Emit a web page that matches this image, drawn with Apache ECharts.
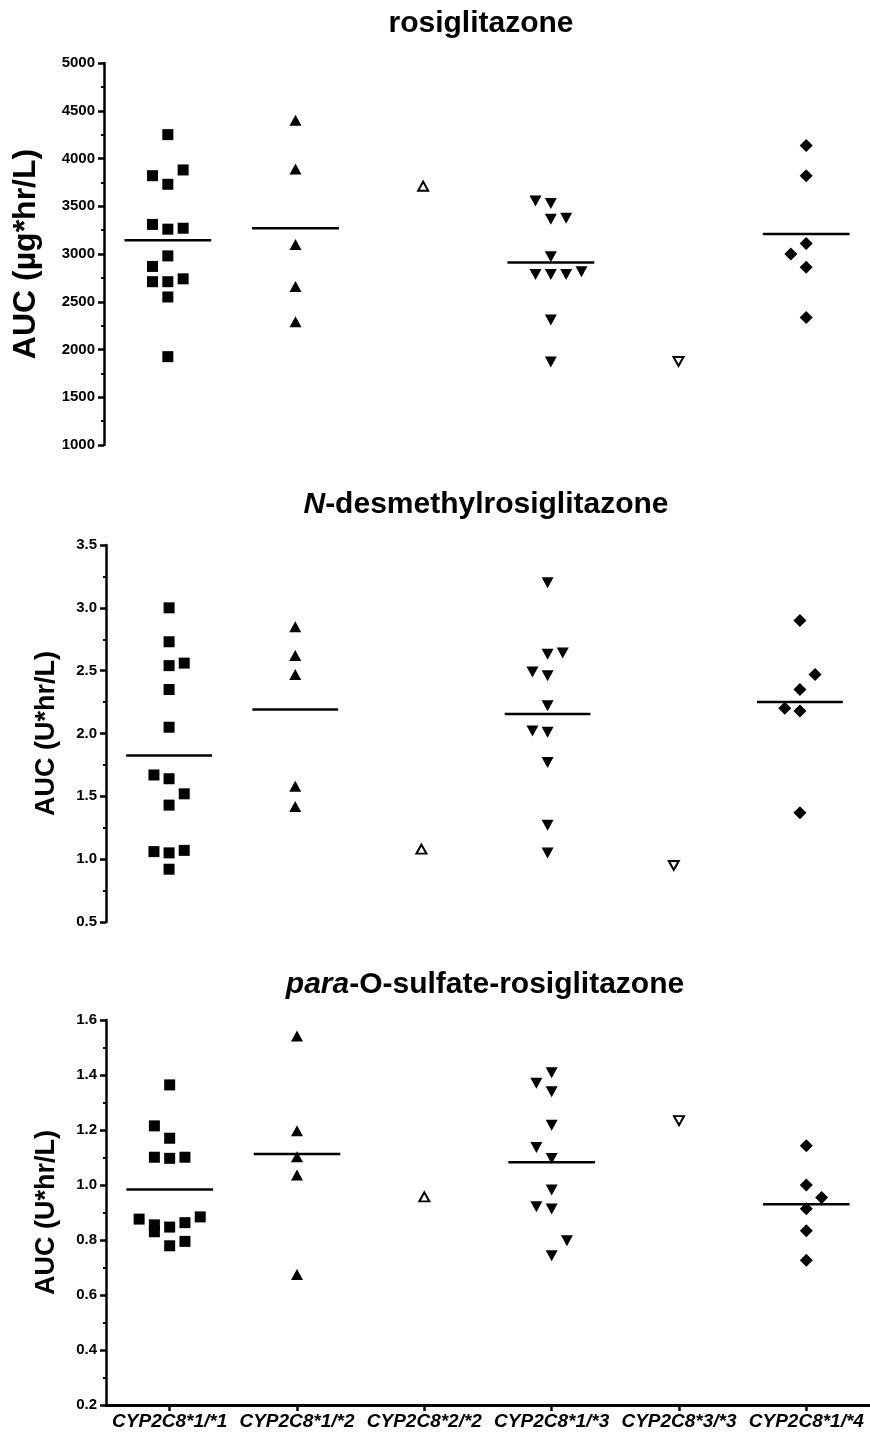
<!DOCTYPE html>
<html>
<head>
<meta charset="utf-8">
<script src="https://cdn.jsdelivr.net/npm/echarts@6/dist/echarts.min.js"></script>
<style>
html,body{margin:0;padding:0;background:#fff;}
#chart{width:870px;height:1433px;}
</style>
</head>
<body>
<div id="chart"></div>
<script>
// ---------------- DATA ----------------
const categories = ['CYP2C8*1/*1','CYP2C8*1/*2','CYP2C8*2/*2','CYP2C8*1/*3','CYP2C8*3/*3','CYP2C8*1/*4'];

// Panel 1: rosiglitazone AUC (µg*hr/L)
const rosiAUC = [
  [4250,3880,3820,3730,3310,3260,3270,2980,2870,2710,2710,2740,2550,1925],
  [4400,3890,3100,2660,2290],
  [3710],
  [3555,3530,3365,3375,2970,2785,2785,2785,2815,2310,1870],
  [1875],
  [4135,3820,3110,3000,2860,2335]
];
// column slot of each point inside its group (scatter jitter column)
const rosiCols = [
  [0,1,-1,0,-1,0,1,0,-1,-1,0,1,0,0],
  [0,0,0,0,0],
  [0],
  [-1,0,0,1,0,-1,0,1,2,0,0],
  [0],
  [0,0,0,-1,0,0]
];
const rosiMeans = [3145,3270,null,2910,null,3210];
const rosiTicks = [1000,5000,500];

// Panel 2: N-desmethylrosiglitazone AUC (U*hr/L)
const nDesAUC = [
  [3.00,2.73,2.54,2.56,2.35,2.05,1.67,1.64,1.52,1.43,1.06,1.05,1.07,0.92],
  [2.85,2.62,2.47,1.58,1.42],
  [1.08],
  [3.20,2.63,2.64,2.49,2.46,2.22,2.02,2.01,1.77,1.27,1.05],
  [0.95],
  [2.90,2.47,2.35,2.20,2.18,1.37]
];
const nDesCols = [
  [0,0,0,1,0,0,-1,0,1,0,-1,0,1,0],
  [0,0,0,0,0],
  [0],
  [0,0,1,-1,0,0,-1,0,0,0,0],
  [0],
  [0,1,0,-1,0,0]
];
const nDesMeans = [1.825,2.19,null,2.155,null,2.25];
const nDesTicks = [0.5,3.5,0.5];

// Panel 3: para-O-sulfate-rosiglitazone AUC (U*hr/L)
const sulfAUC = [
  [1.364,1.215,1.170,1.101,1.097,1.101,0.876,0.855,0.830,0.847,0.863,0.884,0.779,0.795],
  [1.542,1.197,1.103,1.036,0.675],
  [0.957],
  [1.408,1.370,1.339,1.217,1.136,1.096,0.982,0.921,0.913,0.797,0.743],
  [1.234],
  [1.143,1.000,0.955,0.914,0.834,0.726]
];
const sulfCols = [
  [0,-1,0,-1,0,1,-2,-1,-1,0,1,2,0,1],
  [0,0,0,0,0],
  [0],
  [0,-1,0,0,-1,0,0,-1,0,1,0],
  [0],
  [0,0,1,0,0,0]
];
const sulfMeans = [0.984,1.113,null,1.083,null,0.930];
const sulfTicks = [0.2,1.6,0.2];

// ---------------- STYLE ----------------
const FONT = "'Liberation Sans', Arial, sans-serif";
const SLOT = 0.12;       // jitter column width in category units
const HALF_MEAN = 0.34;  // half width of the mean line in category units
const markers = [
  {symbol:'rect', size:11, rotate:0, fill:'#000', border:0},
  {symbol:'triangle', size:[12,11], rotate:0, fill:'#000', border:0},
  {symbol:'triangle', size:[10,9], rotate:0, fill:'#fff', border:2},
  {symbol:'triangle', size:[12,11], rotate:180, fill:'#000', border:0},
  {symbol:'triangle', size:[10,9], rotate:180, fill:'#fff', border:2},
  {symbol:'diamond', size:[13,13], rotate:0, fill:'#000', border:0}
];

const grids = [
  {left:104, top:63, width:767, height:382},
  {left:106, top:545, width:757, height:377},
  {left:106, top:1020, width:771, height:385}
];

const panels = [
  {values:rosiAUC, cols:rosiCols, means:rosiMeans, ticks:rosiTicks, name:'AUC (\u00b5g*hr/L)', nameSize:32, nameGap:62, dec:0},
  {values:nDesAUC, cols:nDesCols, means:nDesMeans, ticks:nDesTicks, name:'AUC (U*hr/L)', nameSize:27, nameGap:46, dec:1},
  {values:sulfAUC, cols:sulfCols, means:sulfMeans, ticks:sulfTicks, name:'AUC (U*hr/L)', nameSize:27, nameGap:46, dec:1}
];

const xAxes = [];
const yAxes = [];
const series = [];

panels.forEach((p, pi) => {
  xAxes.push({gridIndex:pi, type:'value', min:-0.5, max:5.5, show:false});
  yAxes.push({
    gridIndex:pi, type:'value', min:p.ticks[0], max:p.ticks[1], interval:p.ticks[2], position:'left',
    name:p.name, nameLocation:'middle', nameGap:p.nameGap, nameRotate:90,
    nameTextStyle:{fontSize:p.nameSize, fontWeight:'bold', fontFamily:FONT, color:'#000'},
    axisLine:{show:true, onZero:false, lineStyle:{color:'#000', width:2.5}},
    axisTick:{show:true, inside:false, length:6, lineStyle:{color:'#000', width:2.5}},
    minorTick:{show:true, splitNumber:2, length:3, lineStyle:{color:'#000', width:2}},
    splitLine:{show:false},
    axisLabel:{fontSize:15, fontWeight:'bold', fontFamily:FONT, color:'#000', margin:9,
      formatter:(v)=>Number(v).toFixed(p.dec)}
  });
  p.values.forEach((vals, gi) => {
    const m = markers[gi];
    series.push({
      type:'scatter', xAxisIndex:pi, yAxisIndex:pi, silent:true,
      symbol:m.symbol, symbolSize:m.size, symbolRotate:m.rotate,
      itemStyle:{color:m.fill, borderColor:'#000', borderWidth:m.border, opacity:1},
      data: vals.map((v, k) => [gi + p.cols[gi][k]*SLOT, v]),
      z:3
    });
  });
  series.push({
    type:'custom', xAxisIndex:pi, yAxisIndex:pi, silent:true, z:2,
    data: p.means.map((m, gi) => m == null ? null : [gi, m]).filter(d => d),
    renderItem:(params, api) => {
      const c = api.value(0), y = api.value(1);
      const a = api.coord([c - HALF_MEAN, y]);
      const b = api.coord([c + HALF_MEAN, y]);
      return {type:'line', shape:{x1:a[0], y1:a[1], x2:b[0], y2:b[1]},
              style:{stroke:'#000', lineWidth:2.5}};
    }
  });
});

// category axis for the bottom panel labels
xAxes.push({
  gridIndex:2, type:'category', data:categories, boundaryGap:true, position:'bottom',
  axisLine:{show:true, onZero:false, lineStyle:{color:'#000', width:3}},
  axisTick:{show:true, alignWithLabel:true, length:6, lineStyle:{color:'#000', width:2.5}},
  axisLabel:{interval:0, fontSize:19, fontWeight:'bold', fontStyle:'italic', fontFamily:FONT, color:'#000', margin:7},
  splitLine:{show:false}
});

const titleStyle = {fontSize:30, fontWeight:'bold', fontFamily:FONT, color:'#000'};
const option = {
  animation:false,
  backgroundColor:'#fff',
  title:[
    {text:'rosiglitazone', left:481, top:9, textAlign:'center', padding:0, textStyle:titleStyle},
    {text:'{i|N}-desmethylrosiglitazone', left:486, top:490, textAlign:'center', padding:0,
      textStyle:Object.assign({}, titleStyle, {rich:{i:Object.assign({}, titleStyle, {fontStyle:'italic'})}})},
    {text:'{i|para}-O-sulfate-rosiglitazone', left:485, top:970, textAlign:'center', padding:0,
      textStyle:Object.assign({}, titleStyle, {rich:{i:Object.assign({}, titleStyle, {fontStyle:'italic'})}})}
  ],
  grid:grids,
  xAxis:xAxes,
  yAxis:yAxes,
  series:series
};

const chart = echarts.init(document.getElementById('chart'), null, {renderer:'canvas'});
chart.setOption(option);
</script>
</body>
</html>
